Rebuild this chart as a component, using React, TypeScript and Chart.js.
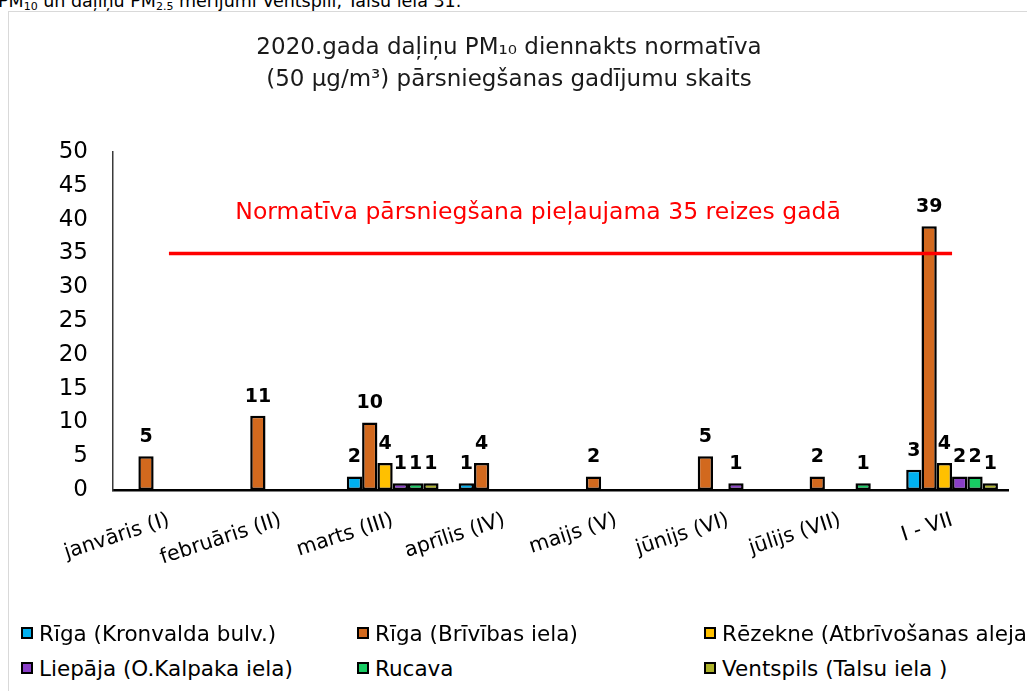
import React, { useEffect, useRef } from "react";
import { Chart, registerables } from "chart.js";

Chart.register(...registerables);

const categories = [
  "janvāris (I)",
  "februāris (II)",
  "marts (III)",
  "aprīlis (IV)",
  "maijs (V)",
  "jūnijs (VI)",
  "jūlijs (VII)",
  "I - VII",
];

const rigaKronvalda = [null, null, 2, 1, null, null, null, 3];
const rigaBrivibas = [5, 11, 10, 4, 2, 5, 2, 39];
const rezekne = [null, null, 4, null, null, null, null, 4];
const liepaja = [null, null, 1, null, null, 1, null, 2];
const rucava = [null, null, 1, null, null, null, 1, 2];
const ventspils = [null, null, 1, null, null, null, null, 1];
const normLimit = [35, 35, 35, 35, 35, 35, 35, 35];

const seriesNames = [
  "Rīga (Kronvalda bulv.)",
  "Rīga (Brīvības iela)",
  "Rēzekne (Atbrīvošanas aleja)",
  "Liepāja (O.Kalpaka iela)",
  "Rucava",
  "Ventspils (Talsu iela )",
];
const seriesData = [rigaKronvalda, rigaBrivibas, rezekne, liepaja, rucava, ventspils];
const seriesColors = ["#00B0F0", "#D2691E", "#FFC000", "#8A3FC8", "#17CC63", "#ADB22A"];

const yMin = 0;
const yMax = 50;
const yStep = 5;

const titleLines = [
  "2020.gada daļiņu PM₁₀ diennakts normatīva",
  "(50 μg/m³) pārsniegšanas gadījumu skaits",
];
const normText = "Normatīva pārsniegšana pieļaujama 35 reizes gadā";
const normTextValue = 41;
const normTextIndex = 3.3;

const FONT = '"DejaVu Sans", sans-serif';

const valueLabels = {
  id: "valueLabels",
  afterDatasetsDraw(chart: any) {
    const ctx = chart.ctx;
    ctx.save();
    ctx.font = "bold 19px " + FONT;
    ctx.fillStyle = "#000";
    ctx.textAlign = "center";
    ctx.textBaseline = "alphabetic";
    chart.data.datasets.forEach((ds: any, i: number) => {
      if (ds.type === "line") return;
      const meta = chart.getDatasetMeta(i);
      meta.data.forEach((el: any, j: number) => {
        const v = ds.data[j];
        if (v == null) return;
        ctx.fillText(String(v), el.x, el.y - 14);
      });
    });
    const xs = chart.scales.x;
    const ys = chart.scales.y;
    ctx.font = "23.5px " + FONT;
    ctx.fillStyle = "#FF0000";
    ctx.textBaseline = "middle";
    ctx.fillText(normText, xs.getPixelForValue(normTextIndex), ys.getPixelForValue(normTextValue));
    ctx.restore();
  },
};

export default function App() {
  const ref = useRef<HTMLCanvasElement | null>(null);

  useEffect(() => {
    if (!ref.current) return;
    const barSets = seriesNames.map((name, i) => ({
      type: "bar" as const,
      label: name,
      data: seriesData[i],
      backgroundColor: seriesColors[i],
      borderColor: "#000",
      borderWidth: 2.5,
      borderSkipped: false,
      order: 1,
      categoryPercentage: 0.82,
      barPercentage: 1.0,
    }));
    const chart = new Chart(ref.current, {
      type: "bar",
      data: {
        labels: categories,
        datasets: [
          ...barSets,
          {
            type: "line" as const,
            label: "Normatīva",
            data: normLimit,
            borderColor: "#FF0000",
            borderWidth: 3.5,
            pointRadius: 0,
            fill: false,
            order: 0,
          } as any,
        ],
      },
      options: {
        responsive: false,
        animation: false,
        devicePixelRatio: 1,
        layout: { padding: { left: 0, right: 22, top: 0, bottom: 0 } },
        plugins: {
          legend: { display: false },
          tooltip: { enabled: false },
          title: {
            display: true,
            text: titleLines,
            color: "#1a1a1a",
            font: { family: FONT, size: 23, weight: "normal", lineHeight: 1.391 },
            padding: { top: 9, bottom: 56 },
          },
        },
        scales: {
          x: {
            grid: { display: false, drawTicks: false },
            border: { display: true, color: "#000", width: 2.5 },
            ticks: {
              color: "#000",
              font: { family: FONT, size: 20.5 },
              minRotation: 18,
              maxRotation: 18,
              padding: 18,
              autoSkip: false,
            },
            afterFit(scale: any) {
              scale.height = 133;
            },
          },
          y: {
            min: yMin,
            max: yMax,
            grid: { display: false, drawTicks: false },
            border: { display: true, color: "#3a3a3a", width: 1.5 },
            ticks: {
              stepSize: yStep,
              color: "#000",
              font: { family: FONT, size: 23 },
              padding: 25,
            },
            afterFit(scale: any) {
              scale.width = 103;
            },
          },
        },
      },
      plugins: [valueLabels],
    });
    return () => chart.destroy();
  }, []);

  const legendCols = [21, 357, 704];
  const legendRows = [633, 668];

  return (
    <div
      style={{
        position: "fixed",
        left: 0,
        top: 0,
        width: 1027,
        height: 691,
        overflow: "hidden",
        background: "#fff",
        fontFamily: FONT,
      }}
    >
      <div
        style={{
          position: "absolute",
          left: -2,
          top: -7,
          fontSize: 17.5,
          lineHeight: "17.5px",
          whiteSpace: "nowrap",
          color: "#000",
        }}
      >
        PM<sub style={{ fontSize: 11, verticalAlign: "-3px" }}>10</sub> un daļiņu PM
        <sub style={{ fontSize: 11, verticalAlign: "-3px" }}>2.5</sub> mērījumi Ventspilī, Talsu ielā 31.
      </div>
      <div
        style={{
          position: "absolute",
          left: 8,
          top: 11,
          width: 1040,
          height: 720,
          border: "1.5px solid #d9d9d9",
          boxSizing: "border-box",
        }}
      />
      <div style={{ position: "absolute", left: 10, top: 23, width: 1020, height: 600 }}>
        <canvas ref={ref} width={1020} height={600} />
      </div>
      {seriesNames.map((name, i) => {
        const col = i % 3;
        const row = Math.floor(i / 3);
        const x = legendCols[col];
        const y = legendRows[row];
        return (
          <div
            key={name}
            style={{
              position: "absolute",
              left: x,
              top: y - 14,
              height: 28,
              display: "flex",
              alignItems: "center",
              whiteSpace: "nowrap",
              fontSize: 21.5,
              color: "#000",
            }}
          >
            <span
              style={{
                display: "inline-block",
                width: 12,
                height: 12,
                boxSizing: "border-box",
                background: seriesColors[i],
                border: "2px solid #000",
                marginRight: 6,
              }}
            />
            <span>{name}</span>
          </div>
        );
      })}
    </div>
  );
}
